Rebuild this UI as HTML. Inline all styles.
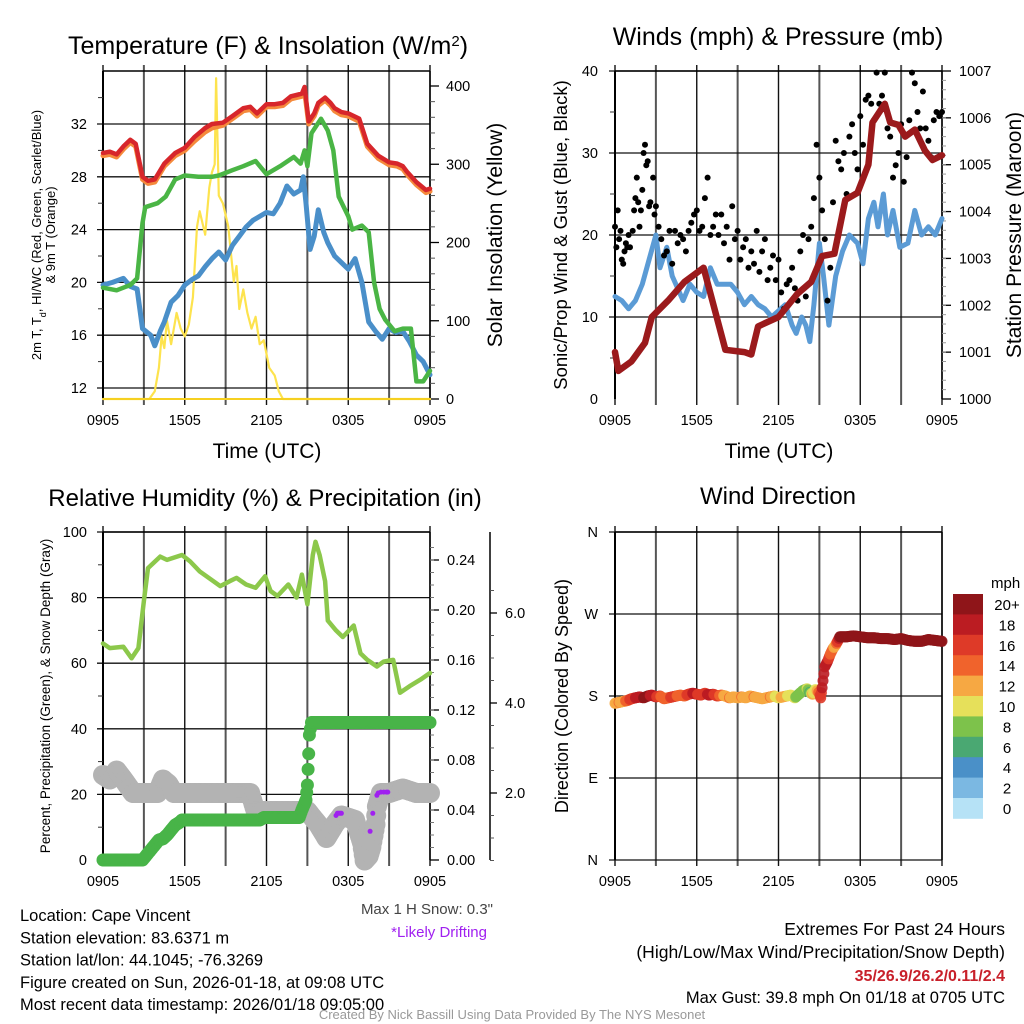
<!DOCTYPE html>
<html><head><meta charset="utf-8"><style>
html,body{margin:0;padding:0;background:#fff;}
svg{display:block;font-family:"Liberation Sans",Arial,sans-serif;}
</style></head><body>
<svg id="fig" width="1024" height="1024" viewBox="0 0 1024 1024" xmlns="http://www.w3.org/2000/svg"></svg>
<script>
// ---------- DATA ----------
const tempHours=[0,0.5,1,1.5,2,2.4,2.9,3.3,3.8,4.5,5.3,6,6.7,7.5,8,8.8,9.5,10.3,10.8,11.3,12,12.6,13.2,13.8,14.2,14.6,14.8,15.1,15.5,15.8,16.3,16.7,17,17.5,18,18.8,19.4,20.2,21,21.6,22,22.3,23,23.7,24];
const tempRed=[29.8,29.9,29.7,30.3,30.8,30.5,28,27.7,27.8,29,29.8,30.2,31,31.7,32,32.1,32.6,33.2,33.3,32.8,33.5,33.5,33.6,34.1,34.2,34.3,34.8,32.2,32.8,33.6,34,33.6,33.2,32.9,32.8,32.4,30.5,29.6,29.1,29,28.8,28.4,27.6,27,27.1];
const tempOrange=[29.6,29.7,29.5,30.1,30.6,30.3,27.8,27.5,27.6,28.8,29.6,30,30.7,31.4,31.7,31.9,32.4,33,33.1,32.6,33.3,33.3,33.4,33.9,34,34.1,34.5,32,32.6,33.4,33.8,33.4,33,32.7,32.6,32.2,30.3,29.4,28.9,28.8,28.6,28.2,27.4,26.8,26.9];
const dewHours=[0,1,2,2.5,2.9,3.1,4,4.6,5.3,6,7,8,8.5,9.5,10.3,11.2,12,13,14,14.5,14.8,15,15.3,16,16.5,16.9,17.3,18,18.3,19,19.5,19.9,20.3,20.7,21.4,22,22.6,23,23.5,24];
const dewGreen=[19.6,19.4,19.8,20.3,24.5,25.7,26,26.5,27.8,28.1,28,28,28.1,28.5,28.8,29.2,28.2,28.8,29.5,29,30,28.8,31.3,32.4,31.5,30,26.5,25,24,24.3,23.8,20,18,17.2,16.3,16.5,16.5,12.5,12.5,13.3];
const wcHours=[0,0.7,1.5,2,2.5,2.9,3.5,3.8,4.2,4.5,5,5.5,6,6.5,7,7.5,8,8.5,9,9.5,10,10.5,11,11.5,12,12.5,13,13.5,14,14.5,14.7,14.9,15.2,15.5,15.8,16.2,16.5,17,17.5,18,18.5,19,19.5,20,20.5,21,21.5,22,22.5,23,23.5,24];
const wcBlue=[19.8,20,20.3,19.7,19.5,16.5,16,15.2,16.3,17,18.5,19,19.8,20.2,20.5,21.2,21.8,22.3,21.7,22.8,23.5,24.2,24.7,25,25.3,25.2,26,27.3,26.7,27,28,26,22.5,23.5,25.5,23.8,23,22,21.5,21,21.8,20,17,16.3,15.7,16.5,16.2,16.3,15.5,14.5,14,13];
const solarHours=[0,3.4,3.8,4.1,4.3,4.5,4.7,5,5.4,5.7,6,6.3,6.6,6.9,7.1,7.5,7.8,8,8.2,8.3,8.5,8.8,9.2,9.6,9.8,10,10.3,10.6,10.9,11.2,11.5,11.8,12.2,12.6,12.9,13.2,24];
const solarYellow=[0,0,10,40,80,65,100,70,110,90,80,95,130,220,240,210,270,290,300,410,260,250,220,150,170,115,140,110,90,105,70,75,40,30,10,0,0];

const presHours=[0,0.25,1.2,2.2,2.7,3.9,5.1,6.5,8.1,9.5,10,10.5,12,13.4,14.4,15.2,16.1,16.9,17.8,18.6,18.9,19.8,20.2,20.8,21.3,22,22.75,23.3,24];
const presMaroon=[1001,1000.6,1000.8,1001.2,1001.75,1002.1,1002.5,1002.8,1001.05,1001,1000.95,1001.55,1001.75,1002.25,1002.5,1003.05,1003.1,1004.25,1004.4,1005,1005.9,1006.3,1005.9,1005.85,1005.6,1005.75,1005.3,1005.1,1005.2];
const windHours=[0,0.5,1,1.5,2,2.5,3,3.3,3.8,4.2,5,5.5,6,6.5,7,7.5,8.5,9,9.5,10,10.5,11,11.5,12.5,13,13.3,13.7,14,14.3,14.6,15,15.3,15.7,16.2,16.7,17.2,17.8,18.2,18.6,19,19.3,19.7,20,20.4,20.9,21.5,22,22.5,23,23.5,24];
const windBlue=[12.5,12,11,12,14,17,20,16,18.5,15,12,14,13,12.5,16,14,14,13,11.5,12.5,11.5,11,10,11.5,9,8,10,9,7,11.5,19,15,9,15,18,20,19,16.5,22,24,21,25,20,23,18.5,19,23,20,21,20,22];
const gustHours=[0,0.1,0.2,0.3,0.4,0.5,0.6,0.7,0.8,0.9,1,1.1,1.3,1.4,1.5,1.6,1.7,1.8,1.9,2,2.1,2.2,2.3,2.4,2.5,2.6,2.8,2.9,3,3.2,3.4,3.6,3.8,4,4.2,4.4,4.6,4.8,5,5.2,5.4,5.6,5.8,6,6.2,6.4,6.6,6.8,7,7.2,7.4,7.6,7.8,8,8.2,8.4,8.6,8.8,9,9.2,9.4,9.6,9.8,10,10.2,10.4,10.6,10.8,11,11.2,11.4,11.6,11.8,12,12.2,12.4,12.6,12.8,13,13.2,13.4,13.6,13.8,14,14.2,14.4,14.6,14.8,15,15.2,15.4,15.6,15.8,16,16.2,16.4,16.6,16.8,17,17.2,17.4,17.6,17.8,18,18.2,18.4,18.6,18.8,19,19.2,19.4,19.6,19.8,20,20.2,20.4,20.6,20.8,21,21.2,21.4,21.6,21.8,22,22.2,22.4,22.6,22.8,23,23.2,23.4,23.6,23.8,24];
const gustBlack=[21,18.5,23,19.5,20.5,17,16.5,18,19,18.5,20,18.5,20.5,23,24.5,27,24,21,23,25.5,30,31,28.5,29,23.5,24,27,22.5,23.5,21,19.5,17.5,18,20.5,16.5,20.5,19,20,19.5,18,20.5,21.5,22.5,23,20.5,21,24.5,27,20,21,22.5,20,22.5,19,21,17,23.5,19.5,20.5,17,18.5,19.5,16,18,16.5,20.5,15.5,18,19.5,14.5,16,17.5,14.5,17,13,11,14,14.5,16,13.5,12,18,20,12.5,19.5,21,24.5,31,27,23,19.5,12,16,24,31.5,29,28,30,25,32,33.5,30,28,34.5,31,36.5,37,36,34,39.8,36,37,39.8,33,32,27,28.5,30,33.5,26.5,29.5,34,39.8,38.5,35,33,37.5,33,31.5,29.5,34,35,34.5,35];

const rhHours=[0,0.5,1.5,2.1,2.6,3,3.3,4.2,4.7,5.8,6.4,7.1,8.1,8.6,9.3,9.8,10.5,11.2,11.9,12.3,12.8,13.6,14.2,14.6,15,15.4,15.6,15.9,16.3,16.5,17.1,17.6,18.4,18.9,19.4,20.1,20.6,21.3,21.8,22.5,23.3,24];
const rhGreen=[66,64.6,65,61.5,64.6,79,89,92.5,91.5,93,91,88,85,83.5,85,86,84,83,86.5,82,80.5,84,80,87,78,93,97,93,85,73,70,68,71.5,63,61,59,60.5,61,51,53,55,57];
const precipHours=[0,0.5,1,1.5,2,2.5,2.9,3.2,3.5,3.8,4.1,4.4,4.7,5,5.3,5.6,5.8,6.5,7.5,8.5,9.5,10.5,11.5,11.8,12.5,13.5,14.4,14.6,14.8,14.9,15,15.1,15.15,15.3,16,17,18,19,20,21,22,23,24];
const precipIn=[0,0,0,0,0,0,0,0.004,0.008,0.012,0.016,0.017,0.02,0.024,0.028,0.03,0.032,0.032,0.032,0.032,0.032,0.032,0.032,0.034,0.034,0.034,0.034,0.04,0.045,0.048,0.06,0.085,0.1,0.11,0.11,0.11,0.11,0.11,0.11,0.11,0.11,0.11,0.11];
const snowHours=[0,0.5,1,1.5,2.2,3,4,4.4,4.8,5.2,6,7,8,9,10,10.8,11.2,12,13,14,15,15.8,16.4,17,17.5,18.5,19,19.2,19.5,19.7,20,20.1,20.4,21,22,23,24];
const snowGray=[2.4,2.3,2.5,2.3,2.0,2.0,2.0,2.3,2.2,2.0,2.0,2.0,2.0,2.0,2.0,2.0,1.6,1.6,1.6,1.6,1.6,1.3,1.0,1.3,1.5,1.4,0.9,0.5,0.6,0.8,1.3,1.7,2.0,2.0,2.1,2.0,2.0];
const driftHours=[17.1,17.2,17.3,17.4,17.5,19.6,19.8,20.1,20.2,20.4,20.6,20.8,20.9];
const driftSnow=[1.5,1.55,1.55,1.55,1.55,1.15,1.55,1.95,2.0,2.02,2.02,2.02,2.02];

const dirHours=[0,0.3,0.6,0.9,1.2,1.5,1.8,2.1,2.4,2.7,3,3.3,3.6,3.9,4.2,4.5,4.8,5.1,5.4,5.7,6,6.3,6.6,6.9,7.2,7.5,7.8,8.1,8.4,8.7,9,9.3,9.6,9.9,10.2,10.5,10.8,11.1,11.4,11.7,12,12.3,12.6,12.9,13.2,13.5,13.8,14.1,14.3,14.5,14.7,14.9,15,15.1,15.2,15.4,15.6,15.8,16,16.2,16.5,17,17.5,18,18.5,19,19.5,20,20.5,21,21.5,22,22.5,23,23.5,24];
const dirDeg=[172,173,174,175,177,178,179,178,180,181,179,180,177,178,179,180,181,180,182,183,182,181,183,181,182,180,181,180,178,179,178,179,178,180,179,178,177,178,179,180,178,179,180,181,178,182,186,188,184,182,187,185,183,178,189,212,218,226,232,236,245,245,246,245,244,244,243,243,242,243,241,240,240,242,241,240];
const dirSpeed=[12,13,12,14,16,17,18,19,20,18,17,15,14,14,16,15,13,14,16,17,17,15,16,18,17,16,14,12,13,12,12,13,12,12,13,12,11,12,13,11,10,12,11,10,9,8,7,9,6,11,10,12,14,16,17,18,17,14,13,12,20,21,20,21,21,20,21,21,21,20,20,21,21,21,21,21];

const xTickLabels=["0905","1505","2105","0305","0905"];
const cbarLabels=["20+","18","16","14","12","10","8","6","4","2","0"];
const cbarColors=["#8f1519","#bb1c22","#de3a28","#f0632c","#f6a843","#e6e05a","#7dc24b","#4aa872","#4a90c8","#7bb8e2","#b6e2f6"];

// ---------- HELPERS ----------
const NS="http://www.w3.org/2000/svg";
const svg=document.getElementById('fig');
function mk(parent,tag,attrs,name,inter){
  const el=document.createElementNS(NS,tag);
  for(const k in attrs) el.setAttribute(k,attrs[k]);
  
  
  parent.appendChild(el);
  return el;
}
function txt(parent,x,y,s,size,name,opts){
  opts=opts||{};
  const a={x:x,y:y,'font-size':size,'text-anchor':opts.anchor||'start',fill:opts.fill||'#000'};
  if(opts.weight) a['font-weight']=opts.weight;
  if(opts.rot!==undefined) a.transform='rotate('+opts.rot+' '+x+' '+y+')';
  const t=mk(parent,'text',a,name,false);
  t.textContent=s;
  return t;
}
function panel(x0,y0){
  return {x0:x0,x1:x0+327,y0:y0,y1:y0+328,hx:function(h){return x0+h*327/24;}};
}
function linear(v0,v1,p0,p1){return function(v){return p0+(v-v0)*(p1-p0)/(v1-v0);};}
// interpolate arrays at fine step (for dense dot rendering)
function dense(hours,vals,step){
  const H=[],V=[];
  for(let i=0;i<hours.length-1;i++){
    const n=Math.max(1,Math.ceil((hours[i+1]-hours[i])/step));
    for(let k=0;k<n;k++){const f=k/n;H.push(hours[i]+f*(hours[i+1]-hours[i]));V.push(vals[i]+f*(vals[i+1]-vals[i]));}
  }
  H.push(hours[hours.length-1]);V.push(vals[vals.length-1]);
  return [H,V];
}
function path(g,hours,vals,P,yf,color,w,name){
  let d='';
  for(let i=0;i<hours.length;i++){d+=(i?'L':'M')+P.hx(hours[i]).toFixed(1)+','+yf(vals[i]).toFixed(1);}
  return mk(g,'path',{d:d,fill:'none',stroke:color,'stroke-width':w,'stroke-linejoin':'round','stroke-linecap':'round'},name,false);
}
function dots(g,hours,vals,P,yf,color,r,name){
  for(let i=0;i<hours.length;i++){
    mk(g,'circle',{cx:P.hx(hours[i]).toFixed(1),cy:yf(vals[i]).toFixed(1),r:r,fill:color},name,false);
  }
}
function frame(g,P,hLines,pref){
  for(let i=0;i<=8;i++){
    const x=P.hx(i*3);
    mk(g,'line',{x1:x,y1:P.y0-6,x2:x,y2:P.y1+6,stroke:(i%2?'#555':'#111'),'stroke-width':(i%2?2:1.4)},pref+'-vgrid',false);
  }
  hLines.forEach(function(y){
    mk(g,'line',{x1:P.x0-6,y1:y,x2:P.x1,y2:y,stroke:'#111','stroke-width':1.3},pref+'-hgrid',false);
  });
  mk(g,'line',{x1:P.x0,y1:P.y0,x2:P.x1,y2:P.y0,stroke:'#000','stroke-width':1.5},pref+'-top-border',false);
  mk(g,'line',{x1:P.x0,y1:P.y0,x2:P.x0,y2:P.y1,stroke:'#000','stroke-width':2},pref+'-left-axis',false);
  mk(g,'line',{x1:P.x1,y1:P.y0,x2:P.x1,y2:P.y1,stroke:'#000','stroke-width':1.5},pref+'-right-axis',false);
  for(let i=0;i<xTickLabels.length;i++){
    txt(g,P.hx(i*6),P.y1+26,xTickLabels[i],14.5,pref+'-x-tick-label',{anchor:'middle'});
  }
}

// ---------- PANEL 1: Temperature ----------
(function(){
  const g=mk(svg,'g',{},'temperature-panel',false);
  const P=panel(103,71);
  const yT=linear(12,32,388,124);
  const yS=linear(0,400,399,86);
  frame(g,P,[12,16,20,24,28,32].map(yT),'temp');
  [12,16,20,24,28,32].forEach(function(v){txt(g,87,yT(v)+5,String(v),14.5,'temp-y-tick-label',{anchor:'end'});});
  for(let v=12;v<=36;v+=2){if(v%4) mk(g,'line',{x1:P.x0-5,y1:yT(v),x2:P.x0,y2:yT(v),stroke:'#333','stroke-width':1},'temp-minor-tick',false);}
  [0,100,200,300,400].forEach(function(v){
    mk(g,'line',{x1:P.x1,y1:yS(v),x2:P.x1+9,y2:yS(v),stroke:'#000','stroke-width':1.3},'solar-tick',false);
    txt(g,446,yS(v)+5,String(v),14.5,'solar-tick-label');
  });
  for(let v=20;v<=400;v+=20){if(v%100) mk(g,'line',{x1:P.x1,y1:yS(v),x2:P.x1+5,y2:yS(v),stroke:'#555','stroke-width':1},'solar-minor-tick',false);}
  path(g,solarHours,solarYellow,P,yS,'#fde34e',2.2,'solar-insolation-line');
  path(g,wcHours,wcBlue,P,yT,'#4a8fc9',5,'wind-chill-line');
  path(g,dewHours,dewGreen,P,yT,'#4ab545',4.5,'dewpoint-line');
  path(g,tempHours,tempOrange,P,yT,'#f58a3c',5,'temp-9m-line');
  path(g,tempHours,tempRed,P,yT,'#d7262b',4.5,'temp-2m-line');
  mk(g,'line',{x1:P.x0,y1:P.y1,x2:P.x1,y2:P.y1,stroke:'#f6d020','stroke-width':2},'solar-baseline',false);
  const t=txt(g,268,54,'Temperature (F) & Insolation (W/m',25,'temp-title',{anchor:'middle'});
  const sp=document.createElementNS(NS,'tspan');sp.setAttribute('baseline-shift','super');sp.setAttribute('font-size','15');sp.textContent='2';t.appendChild(sp);
  const sp2=document.createElementNS(NS,'tspan');sp2.textContent=')';t.appendChild(sp2);
  const yl=txt(g,41,235,'2m T, T',13,'temp-y-title',{anchor:'middle',rot:-90});
  const s3=document.createElementNS(NS,'tspan');s3.setAttribute('baseline-shift','sub');s3.setAttribute('font-size','9');s3.textContent='d';yl.appendChild(s3);
  const s4=document.createElementNS(NS,'tspan');s4.textContent=', HI/WC (Red, Green, Scarlet/Blue)';yl.appendChild(s4);
  txt(g,55,235,'& 9m T (Orange)',13,'temp-y-title-2',{anchor:'middle',rot:-90});
  txt(g,502,235,'Solar Insolation (Yellow)',21,'solar-y-title',{anchor:'middle',rot:-90});
  txt(g,267,458,'Time (UTC)',21,'temp-x-title',{anchor:'middle'});
})();

// ---------- PANEL 2: Winds & Pressure ----------
(function(){
  const g=mk(svg,'g',{},'wind-pressure-panel',false);
  const P=panel(615,71);
  const yW=linear(0,40,399,71);
  const yP=linear(1000,1007,399,71);
  frame(g,P,[10,20,30,40].map(yW),'wind');
  [0,10,20,30,40].forEach(function(v){txt(g,598,yW(v)+5,String(v),14.5,'wind-y-tick-label',{anchor:'end'});});
  for(let v=5;v<40;v+=10) mk(g,'line',{x1:P.x0-5,y1:yW(v),x2:P.x0,y2:yW(v),stroke:'#333','stroke-width':1},'wind-minor-tick',false);
  for(let v=1000;v<=1007;v++){
    mk(g,'line',{x1:P.x1,y1:yP(v),x2:P.x1+9,y2:yP(v),stroke:'#000','stroke-width':1.3},'pressure-tick',false);
    txt(g,959,yP(v)+5,String(v),14.5,'pressure-tick-label');
  }
  for(let v=1000.2;v<1007;v+=0.2){mk(g,'line',{x1:P.x1,y1:yP(v),x2:P.x1+4,y2:yP(v),stroke:'#999','stroke-width':1},'pressure-minor-tick',false);}
  path(g,windHours,windBlue,P,yW,'#5b9bd5',5,'sustained-wind-line');
  dots(g,gustHours,gustBlack,P,yW,'#000',3,'gust-dot');
  path(g,presHours,presMaroon,P,yP,'#9b1a1c',6.5,'pressure-line');
  txt(g,778,45,'Winds (mph) & Pressure (mb)',25,'wind-title',{anchor:'middle'});
  txt(g,567,235,'Sonic/Prop Wind & Gust (Blue, Black)',18.5,'wind-y-title',{anchor:'middle',rot:-90});
  txt(g,1021,235,'Station Pressure (Maroon)',21,'pressure-y-title',{anchor:'middle',rot:-90});
  txt(g,779,458,'Time (UTC)',21,'wind-x-title',{anchor:'middle'});
})();

// ---------- PANEL 3: RH & Precip ----------
(function(){
  const g=mk(svg,'g',{},'humidity-panel',false);
  const P=panel(103,532);
  const yR=linear(0,100,860,532);
  const yPr=linear(0,0.24,860,560);
  const ySn=linear(2,4,793,703);
  frame(g,P,[20,40,60,80,100].map(yR),'rh');
  [0,20,40,60,80,100].forEach(function(v){txt(g,87,yR(v)+5,String(v),14.5,'rh-y-tick-label',{anchor:'end'});});
  for(let v=10;v<100;v+=20) mk(g,'line',{x1:P.x0-5,y1:yR(v),x2:P.x0,y2:yR(v),stroke:'#333','stroke-width':1},'rh-minor-tick',false);
  [0,0.04,0.08,0.12,0.16,0.2,0.24].forEach(function(v){
    mk(g,'line',{x1:P.x1,y1:yPr(v),x2:P.x1+9,y2:yPr(v),stroke:'#000','stroke-width':1.3},'precip-tick',false);
    txt(g,447,yPr(v)+5,v.toFixed(2),14.5,'precip-tick-label');
  });
  for(let v=0.01;v<0.26;v+=0.01){mk(g,'line',{x1:P.x1,y1:yPr(v),x2:P.x1+4,y2:yPr(v),stroke:'#777','stroke-width':1},'precip-minor-tick',false);}
  mk(g,'line',{x1:490,y1:532,x2:490,y2:860,stroke:'#000','stroke-width':1.5},'snow-axis',false);
  [2,4,6].forEach(function(v){
    mk(g,'line',{x1:490,y1:ySn(v),x2:497,y2:ySn(v),stroke:'#000','stroke-width':1.3},'snow-tick',false);
    txt(g,505,ySn(v)+5,v.toFixed(1),14.5,'snow-tick-label');
  });
  for(let v=0.5;v<7;v+=0.5){if(v%2) mk(g,'line',{x1:490,y1:ySn(v),x2:494,y2:ySn(v),stroke:'#555','stroke-width':1},'snow-minor-tick',false);}
  const sd=dense(snowHours,snowGray,0.08);
  dots(g,sd[0],sd[1],P,ySn,'#b3b3b3',10,'snow-depth-dot');
  const pd=dense(precipHours,precipIn,0.08);
  dots(g,pd[0],pd[1],P,yPr,'#48b448',6.5,'precip-dot');
  path(g,rhHours,rhGreen,P,yR,'#8cc84b',4.5,'rh-line');
  dots(g,driftHours,driftSnow,P,ySn,'#a020f0',2.5,'drifting-dot');
  txt(g,265,506,'Relative Humidity (%) & Precipitation (in)',24,'rh-title',{anchor:'middle'});
  txt(g,50,696,'Percent, Precipitation (Green), & Snow Depth (Gray)',13.5,'rh-y-title',{anchor:'middle',rot:-90});
})();

// ---------- PANEL 4: Wind direction ----------
(function(){
  const g=mk(svg,'g',{},'wind-direction-panel',false);
  const P=panel(615,532);
  const yD=linear(0,360,860,532);
  frame(g,P,[0,90,180,270,360].map(yD),'dir');
  ['N','E','S','W','N'].forEach(function(s,i){txt(g,598,yD(i*90)+5,s,14.5,'dir-y-tick-label',{anchor:'end'});});
  function col(s){let k=Math.round(s/2);if(k>10)k=10;if(k<0)k=0;return cbarColors[10-k];}
  const dd=dense(dirHours,dirDeg,0.07);
  const ds=dense(dirHours,dirSpeed,0.07);
  for(let i=0;i<dd[0].length;i++){
    mk(g,'circle',{cx:P.hx(dd[0][i]).toFixed(1),cy:yD(dd[1][i]).toFixed(1),r:5.5,fill:col(ds[1][i]),'fill-opacity':0.9},'direction-dot',false);
  }
  txt(g,778,504,'Wind Direction',24,'dir-title',{anchor:'middle'});
  txt(g,568,696,'Direction (Colored By Speed)',18,'dir-y-title',{anchor:'middle',rot:-90});
  const lg=mk(g,'g',{},'speed-colorbar',false);
  txt(lg,991,588,'mph',15,'colorbar-title');
  for(let i=0;i<cbarColors.length;i++){
    mk(lg,'rect',{x:953,y:594+i*20.4,width:30,height:20.8,fill:cbarColors[i]},'colorbar-box',false);
    txt(lg,1007,594+i*20.4+16,cbarLabels[i],15,'colorbar-label',{anchor:'middle'});
  }
})();

// ---------- FOOTER TEXT ----------
(function(){
  const g=mk(svg,'g',{},'footer-text',false);
  const L=['Location: Cape Vincent','Station elevation: 83.6371 m','Station lat/lon: 44.1045; -76.3269','Figure created on Sun, 2026-01-18, at 09:08 UTC','Most recent data timestamp: 2026/01/18 09:05:00'];
  L.forEach(function(s,i){txt(g,20,921+i*22.3,s,16.5,'station-info-line');});
  txt(g,493,914,'Max 1 H Snow: 0.3"',15,'max-snow-note',{anchor:'end',fill:'#444'});
  txt(g,487,937,'*Likely Drifting',15,'drifting-note',{anchor:'end',fill:'#a020f0'});
  txt(g,1005,935,'Extremes For Past 24 Hours',17.5,'extremes-title',{anchor:'end'});
  txt(g,1005,958,'(High/Low/Max Wind/Precipitation/Snow Depth)',17.5,'extremes-subtitle',{anchor:'end'});
  txt(g,1005,981,'35/26.9/26.2/0.11/2.4',16,'extremes-values',{anchor:'end',fill:'#c8202a',weight:'bold'});
  txt(g,1005,1003,'Max Gust: 39.8 mph On 01/18 at 0705 UTC',16.5,'max-gust-line',{anchor:'end'});
  txt(g,512,1019,'Created By Nick Bassill Using Data Provided By The NYS Mesonet',13,'credit-line',{anchor:'middle',fill:'#999'});
})();
</script>
</body></html>
